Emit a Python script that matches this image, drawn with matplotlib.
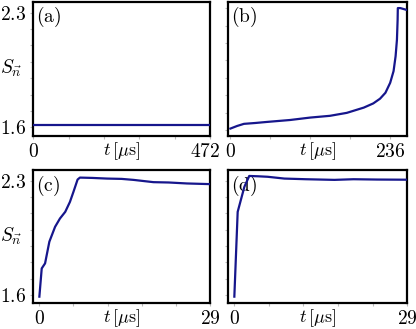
import matplotlib
matplotlib.use("Agg")
import matplotlib.pyplot as plt

plt.rcParams['mathtext.fontset'] = 'cm'
plt.rcParams['font.family'] = 'serif'
plt.rcParams['font.serif'] = ['cmr10', 'DejaVu Serif']
plt.rcParams['axes.formatter.use_mathtext'] = True

# panel (a): flat
t_a = [0, 100, 200, 300, 400, 472]
s_a = [1.612, 1.612, 1.612, 1.612, 1.612, 1.612]

# panel (b): slow rise then jump
t_b = [0, 10, 20, 37, 54, 88, 118, 147, 172, 197, 211, 221, 229, 236, 241, 244, 246, 247, 247.3, 251, 260]
s_b = [1.61, 1.625, 1.637, 1.642, 1.648, 1.659, 1.673, 1.683, 1.700, 1.730, 1.754, 1.781, 1.815,
       1.872, 1.939, 2.024, 2.119, 2.233, 2.30, 2.30, 2.29]

# panel (c)
t_c = [0, 0.4, 0.97, 1.7, 2.67, 3.5, 4.4, 5.2, 5.8, 6.5, 6.9, 9, 11.5, 14, 16, 19.4, 22, 25.1, 29]
s_c = [1.59, 1.763, 1.794, 1.927, 2.018, 2.069, 2.11, 2.171, 2.233, 2.308, 2.32, 2.318, 2.314,
       2.312, 2.306, 2.292, 2.29, 2.284, 2.28]

# panel (d)
t_d = [0, 0.56, 1.68, 2.5, 4, 5.6, 8.4, 12, 16.8, 20, 24, 29]
s_d = [1.59, 2.11, 2.263, 2.33, 2.328, 2.325, 2.314, 2.31, 2.306, 2.31, 2.308, 2.307]

panels = [
    ('(a)', t_a, s_a, 472, 5, (0, 472), (1.55, 2.365)),
    ('(b)', t_b, s_b, 236, 4, (-3, 261), (1.57, 2.335)),
    ('(c)', t_c, s_c, 29, 5, (-1, 29), (1.553, 2.366)),
    ('(d)', t_d, s_d, 29, 5, (-1, 29), (1.553, 2.366)),
]

# axes rectangles in figure fraction (left, bottom, width, height)
rects = [
    (0.0805, 0.588, 0.424, 0.406),
    (0.549, 0.588, 0.4296, 0.406),
    (0.0805, 0.080, 0.424, 0.403),
    (0.549, 0.080, 0.4296, 0.403),
]

col = '#16168c'
fs = 14

fig = plt.figure(figsize=(4.16, 3.29), dpi=100)
for i, (lab, t, s, tmax, nint, xl, yl) in enumerate(panels):
    ax = fig.add_axes(rects[i])
    ax.plot(t, s, color=col, lw=1.6, zorder=5)
    ax.set_xlim(*xl)
    ax.set_ylim(*yl)
    xt = [tmax * k / nint for k in range(nint + 1)]
    ax.set_xticks(xt)
    if i == 0:
        # last label sits a bit left of its tick, away from panel (b)
        ax.set_xticklabels([r'$0$'] + [''] * nint, fontsize=fs)
        ax.annotate(r'$%d$' % tmax, xy=(1, 0), xycoords='axes fraction',
                    xytext=(-3.6, -5.5), textcoords='offset points',
                    ha='center', va='top', fontsize=fs)
    else:
        ax.set_xticklabels([r'$0$'] + [''] * (nint - 1) + [r'$%d$' % tmax], fontsize=fs)
    yt = [1.6 + 0.1 * k for k in range(8)]
    ax.set_yticks(yt)
    if i % 2 == 0:
        ax.set_yticklabels([r'$1.6$'] + [''] * 6 + [r'$2.3$'], fontsize=fs)
        ax.text(-0.065, 0.5, r'$S_{\vec{n}}$', transform=ax.transAxes,
                ha='right', va='center', fontsize=fs)
    else:
        ax.set_yticklabels([''] * 8)
    ax.tick_params(direction='out', length=2.5, width=0.8, color='#bbbbbb', pad=3)
    for sp in ax.spines.values():
        sp.set_linewidth(1.6)
    ax.text(0.5, -0.035, r'$t\,[\mu\mathrm{s}]$', transform=ax.transAxes,
            ha='center', va='top', fontsize=13)
    ax.text(0.015, 0.975, r'$\mathrm{' + lab + '}$', transform=ax.transAxes,
            ha='left', va='top', fontsize=fs, zorder=3)

fig.savefig('out.png', dpi=100)
